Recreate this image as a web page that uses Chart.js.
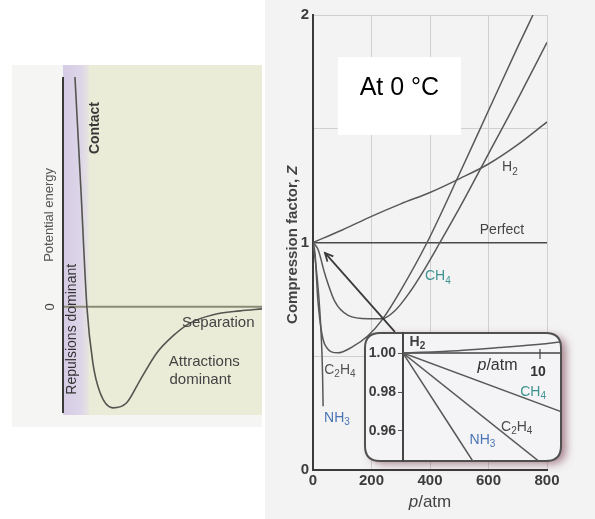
<!DOCTYPE html>
<html><head><meta charset="utf-8">
<script src="https://cdn.jsdelivr.net/npm/chart.js@4/dist/chart.umd.min.js"></script>
<style>
html,body{margin:0;padding:0;background:#fff;width:595px;height:519px;overflow:hidden;}
canvas{position:absolute;}
#left{left:0;top:0;}
#main{left:263px;top:0;}
#inset{left:350px;top:318px;}
</style></head><body>
<canvas id="left" width="263" height="519"></canvas>
<canvas id="main" width="332" height="519"></canvas>
<canvas id="inset" width="245" height="160"></canvas>
<script>
const FONT = "'Liberation Sans', Arial, Helvetica, sans-serif";

// Left panel: potential energy vs separation
const separation = [0.6, 0.9, 1.2, 1.5, 1.86, 2.5, 3.2, 3.87, 4.72, 5.5, 6.38, 7.5, 8.9, 10];
const potentialEnergy = [2.25, 1.15, 0, -0.55, -0.84, -0.99, -0.94, -0.72, -0.45, -0.29, -0.16, -0.08, -0.04, -0.02];

// Main panel: compression factor Z vs p/atm at 0 °C
const h2P = [0, 100, 200, 300, 400, 500, 600, 700, 800];
const h2Z = [1, 1.055, 1.115, 1.17, 1.22, 1.28, 1.345, 1.43, 1.53];
const ch4P = [0, 17, 41, 75, 120, 188, 236, 280, 330, 380, 434, 500, 600, 700, 800];
const ch4Z = [1, 0.97, 0.86, 0.74, 0.68, 0.665, 0.665, 0.70, 0.78, 0.88, 1.0, 1.15, 1.39, 1.63, 1.88];
const c2h4P = [0, 7, 17, 41, 85, 133, 188, 236, 300, 390, 500, 600, 700, 752];
const c2h4Z = [1, 0.95, 0.74, 0.55, 0.515, 0.54, 0.59, 0.66, 0.79, 1.0, 1.30, 1.58, 1.86, 2.0];
const nh3P = [0, 10, 20, 27, 31, 33, 34.5];
const nh3Z = [1, 0.9, 0.76, 0.62, 0.5, 0.4, 0.28];
const pTickStep = 200;
const zLabelTicks = [0, 1, 2];

// Inset: low pressure region
const insetH2P = [0, 4, 7, 10, 11.5];
const insetH2Z = [1, 1.0012, 1.0028, 1.0045, 1.0057];
const insetCH4P = [0, 11.5];
const insetCH4Z = [1, 0.970];
const insetC2H4P = [0, 10];
const insetC2H4Z = [1, 0.944];
const insetNH3P = [0, 5.2];
const insetNH3Z = [1, 0.9434];
const insetZTicks = [0.96, 0.98, 1.00];
const insetPTick = 10;

function pts(xs, ys){ return xs.map((x,i)=>({x:x, y:ys[i]})); }
function line(xs, ys){
  return {data: pts(xs, ys), borderColor:'#585858', borderWidth:1.5, pointRadius:0,
          cubicInterpolationMode:'monotone', fill:false};
}
function rich(ctx, parts, x, y, rot, color, align){
  ctx.save();
  ctx.translate(x, y);
  if (rot) ctx.rotate(-Math.PI/2);
  ctx.fillStyle = color; ctx.textBaseline = 'middle'; ctx.textAlign = 'left';
  let w = 0;
  parts.forEach(p=>{ ctx.font = p.f; w += ctx.measureText(p.t).width; });
  let cx = align === 'left' ? 0 : -w/2;
  parts.forEach(p=>{ ctx.font = p.f; ctx.fillText(p.t, cx, p.dy||0); cx += ctx.measureText(p.t).width; });
  ctx.restore();
}
function txt(ctx, s, x, y, size, color, weight, rot){
  rich(ctx, [{t:s, f:(weight||'normal')+' '+size+'px '+FONT}], x, y, rot, color);
}
function formula(ctx, s, x, y, size, color, weight){
  const w = weight || 'normal';
  const parts = s.match(/[A-Za-z]+|\d+/g).map(t=>{
    const sub = /\d/.test(t);
    return {t:t, f: w+' '+(sub? Math.round(size*0.68): size)+'px '+FONT, dy: sub? size*0.32 : 0};
  });
  rich(ctx, parts, x, y, false, color);
}
function pAtm(ctx, x, y, size, color){
  rich(ctx, [{t:'p', f:'italic '+size+'px '+FONT},{t:'/atm', f:size+'px '+FONT}], x, y, false, color);
}

/* ---------------- Left panel ---------------- */
const leftDecor = {
  id:'leftDecor',
  beforeDraw(chart){
    const {ctx, chartArea:a, scales:{x}} = chart;
    ctx.save();
    ctx.fillStyle = '#f5f5f3';
    ctx.fillRect(a.left-51, a.top-12, a.right-a.left+51, a.bottom-a.top+26);
    const bandR = x.getPixelForValue(1.1);
    ctx.fillStyle = '#ebecd8';
    ctx.fillRect(bandR, a.top-12, a.right-bandR, a.bottom-a.top+14);
    const g = ctx.createLinearGradient(a.left, 0, bandR+4, 0);
    g.addColorStop(0, '#d5cbe5'); g.addColorStop(0.7, '#ddd6e8'); g.addColorStop(1, '#e6e5e0');
    ctx.fillStyle = g;
    ctx.fillRect(a.left, a.top-12, bandR+4-a.left, a.bottom-a.top+14);
    ctx.restore();
  },
  beforeDatasetsDraw(chart){
    const {ctx, chartArea:a, scales:{y}} = chart;
    const y0 = y.getPixelForValue(0);
    ctx.save();
    ctx.strokeStyle = '#8a8a76'; ctx.lineWidth = 2;
    ctx.beginPath(); ctx.moveTo(a.left, y0); ctx.lineTo(a.right, y0); ctx.stroke();
    ctx.strokeStyle = '#3a3a3a'; ctx.lineWidth = 2;
    ctx.beginPath(); ctx.moveTo(a.left, a.top); ctx.lineTo(a.left, a.bottom); ctx.stroke();
    ctx.restore();
  },
  afterDatasetsDraw(chart){
    const {ctx, chartArea:a, scales:{x, y}} = chart;
    const y0 = y.getPixelForValue(0);
    txt(ctx, '0', a.left-13, y0, 13, '#444', 'normal', true);
    txt(ctx, 'Potential energy', a.left-14, y.getPixelForValue(0.9), 13, '#555', 'normal', true);
    txt(ctx, 'Repulsions dominant', x.getPixelForValue(0.45), y.getPixelForValue(-0.22), 14, '#333', 'normal', true);
    txt(ctx, 'Contact', x.getPixelForValue(1.6), y.getPixelForValue(1.75), 14, '#3a3a3a', 'bold', true);
    txt(ctx, 'Separation', x.getPixelForValue(7.8), y.getPixelForValue(-0.16), 15, '#444');
    txt(ctx, 'Attractions', x.getPixelForValue(7.1), y.getPixelForValue(-0.54), 15, '#444');
    txt(ctx, 'dominant', x.getPixelForValue(6.9), y.getPixelForValue(-0.72), 15, '#444');
  }
};

new Chart(document.getElementById('left'), {
  type:'line',
  data:{datasets:[{data: pts(separation, potentialEnergy), borderColor:'#555550', borderWidth:1.6,
        pointRadius:0, cubicInterpolationMode:'monotone', fill:false}]},
  options:{responsive:false, animation:false, events:[],
    layout:{padding:{left:63, top:77, right:1, bottom:106}},
    plugins:{legend:{display:false}, tooltip:{enabled:false}},
    scales:{x:{type:'linear', min:0, max:10, display:false},
            y:{min:-1.04, max:2.25, display:false}}},
  plugins:[leftDecor]
});

/* ---------------- Main panel ---------------- */
const mainDecor = {
  id:'mainDecor',
  beforeDraw(chart){
    const {ctx, width, height} = chart;
    ctx.save(); ctx.fillStyle = '#f3f3f3'; ctx.fillRect(2, 0, width-2, height); ctx.restore();
  },
  beforeDatasetsDraw(chart){
    const {ctx, scales:{x, y}} = chart;
    const l = x.getPixelForValue(85), r = x.getPixelForValue(506);
    const t = y.getPixelForValue(1.815), b = y.getPixelForValue(1.473);
    ctx.save();
    ctx.fillStyle = '#ffffff'; ctx.fillRect(l, t, r-l, b-t);
    ctx.fillStyle = '#000'; ctx.font = '25px '+FONT; ctx.textAlign = 'center'; ctx.textBaseline = 'alphabetic';
    ctx.fillText('At 0 °C', (l+r)/2, t+38);
    ctx.restore();
  },
  afterDatasetsDraw(chart){
    const {ctx, chartArea:a, scales:{x, y}} = chart;
    txt(ctx, 'Perfect', x.getPixelForValue(646), y.getPixelForValue(1.055), 14, '#444');
    formula(ctx, 'H2', x.getPixelForValue(673), y.getPixelForValue(1.33), 14, '#4a4a4a');
    formula(ctx, 'CH4', x.getPixelForValue(427), y.getPixelForValue(0.85), 14, '#3d9390');
    formula(ctx, 'C2H4', x.getPixelForValue(92), y.getPixelForValue(0.44), 14, '#555');
    formula(ctx, 'NH3', x.getPixelForValue(82), y.getPixelForValue(0.23), 14, '#4a74b4');
    // arrow pointing from the inset to its region (p -> 0, Z = 1)
    const x1 = x.getPixelForValue(280), y1 = y.getPixelForValue(0.607);
    const x2 = x.getPixelForValue(41), y2 = y.getPixelForValue(0.954);
    ctx.save();
    ctx.strokeStyle = '#3a3a3a'; ctx.lineWidth = 1.8;
    ctx.beginPath(); ctx.moveTo(x1, y1); ctx.lineTo(x2, y2); ctx.stroke();
    const ang = Math.atan2(y2-y1, x2-x1), L = 9;
    ctx.beginPath();
    ctx.moveTo(x2 - L*Math.cos(ang-0.45), y2 - L*Math.sin(ang-0.45));
    ctx.lineTo(x2, y2);
    ctx.lineTo(x2 - L*Math.cos(ang+0.45), y2 - L*Math.sin(ang+0.45));
    ctx.stroke();
    ctx.restore();
    // axis titles
    rich(ctx, [{t:'Compression factor, ', f:'bold 15px '+FONT},{t:'Z', f:'bold italic 15px '+FONT}],
         a.left-20, y.getPixelForValue(0.99), true, '#444');
    pAtm(ctx, (a.left+a.right)/2, a.bottom+32, 17, '#444');
  }
};

new Chart(document.getElementById('main'), {
  type:'line',
  data:{datasets:[line(h2P,h2Z), line(ch4P,ch4Z), line(c2h4P,c2h4Z), line(nh3P,nh3Z)]},
  options:{responsive:false, animation:false, events:[],
    layout:{padding:{left:0, top:15, right:48, bottom:0}},
    plugins:{legend:{display:false}, tooltip:{enabled:false}},
    scales:{
      x:{type:'linear', min:0, max:800, afterFit(s){ s.height = 49; },
         ticks:{stepSize:pTickStep, maxRotation:0, padding:2, color:'#3c3c3c',
                font:{family:FONT, size:15, weight:'bold'}},
         grid:{drawTicks:false, color:c=> (c.tick && c.tick.value===0) ? 'rgba(0,0,0,0)' : '#d0d0d0'},
         border:{color:'#3a3a3a', width:2}},
      y:{min:0, max:2, afterFit(s){ s.width = 50; },
         ticks:{stepSize:0.5, padding:4, color:'#3c3c3c', font:{family:FONT, size:15, weight:'bold'},
                callback:v=> zLabelTicks.includes(v) ? String(v) : ''},
         grid:{drawTicks:false,
               color:c=> !c.tick ? '#d0d0d0' : (c.tick.value===1 ? '#4a4a4a' : (c.tick.value===0 ? 'rgba(0,0,0,0)' : '#d0d0d0')),
               lineWidth:c=> (c.tick && c.tick.value===1) ? 1.6 : 1},
         border:{color:'#3a3a3a', width:2}}
    }},
  plugins:[mainDecor]
});

/* ---------------- Inset ---------------- */
function roundRect(ctx, x, y, w, h, r){
  ctx.beginPath();
  ctx.moveTo(x+r, y); ctx.lineTo(x+w-r, y); ctx.quadraticCurveTo(x+w, y, x+w, y+r);
  ctx.lineTo(x+w, y+h-r); ctx.quadraticCurveTo(x+w, y+h, x+w-r, y+h);
  ctx.lineTo(x+r, y+h); ctx.quadraticCurveTo(x, y+h, x, y+h-r);
  ctx.lineTo(x, y+r); ctx.quadraticCurveTo(x, y, x+r, y);
  ctx.closePath();
}
const insetDecor = {
  id:'insetDecor',
  beforeDraw(chart){
    const {ctx, chartArea:a} = chart;
    const bx = a.left-38, by = a.top, bw = a.right+1-bx, bh = a.bottom-a.top;
    ctx.save();
    ctx.shadowColor = 'rgba(110,40,60,0.55)'; ctx.shadowBlur = 9; ctx.shadowOffsetX = 5; ctx.shadowOffsetY = 3;
    roundRect(ctx, bx, by, bw, bh, 15);
    ctx.fillStyle = '#f4f4f6'; ctx.fill();
    ctx.shadowColor = 'transparent';
    ctx.strokeStyle = '#505050'; ctx.lineWidth = 2; ctx.stroke();
    ctx.restore();
  },
  beforeDatasetsDraw(chart){
    const {ctx, chartArea:a, scales:{x, y}} = chart;
    const y1 = y.getPixelForValue(1.0), xt = x.getPixelForValue(insetPTick);
    ctx.save();
    ctx.strokeStyle = '#454545'; ctx.lineWidth = 1.6;
    ctx.beginPath(); ctx.moveTo(a.left, y1); ctx.lineTo(a.right, y1); ctx.stroke();
    ctx.lineWidth = 1.2;
    ctx.beginPath(); ctx.moveTo(xt, y1-4); ctx.lineTo(xt, y1+6); ctx.stroke();
    ctx.restore();
  },
  afterDatasetsDraw(chart){
    const {ctx, scales:{x, y}} = chart;
    formula(ctx, 'H2', x.getPixelForValue(1.05), y.getPixelForValue(1.0058), 14, '#3f3f3f', 'bold');
    pAtm(ctx, x.getPixelForValue(6.9), y.getPixelForValue(0.9938), 16, '#333');
    txt(ctx, String(insetPTick), x.getPixelForValue(9.85), y.getPixelForValue(0.9903), 14, '#333', 'bold');
    formula(ctx, 'CH4', x.getPixelForValue(9.5), y.getPixelForValue(0.980), 14, '#3d9390');
    formula(ctx, 'C2H4', x.getPixelForValue(8.3), y.getPixelForValue(0.962), 14, '#4a4a4a');
    formula(ctx, 'NH3', x.getPixelForValue(5.8), y.getPixelForValue(0.9554), 14, '#4a74b4');
  }
};

new Chart(document.getElementById('inset'), {
  type:'line',
  data:{datasets:[line(insetH2P,insetH2Z), line(insetCH4P,insetCH4Z), line(insetC2H4P,insetC2H4Z), line(insetNH3P,insetNH3Z)]},
  options:{responsive:false, animation:false, events:[],
    layout:{padding:{left:0, top:15, right:35, bottom:17}},
    plugins:{legend:{display:false}, tooltip:{enabled:false}},
    scales:{
      x:{type:'linear', min:0, max:11.46, display:false},
      y:{min:0.9446, max:1.0103, afterFit(s){ s.width = 53; },
         afterBuildTicks(s){ s.ticks = insetZTicks.map(v=>({value:v})); },
         ticks:{padding:2, color:'#3c3c3c', font:{family:FONT, size:14, weight:'bold'}, callback:v=> Number(v).toFixed(2)},
         grid:{drawOnChartArea:false, tickLength:5, color:'#555'},
         border:{color:'#444', width:2}}
    }},
  plugins:[insetDecor]
});
</script></body></html>
